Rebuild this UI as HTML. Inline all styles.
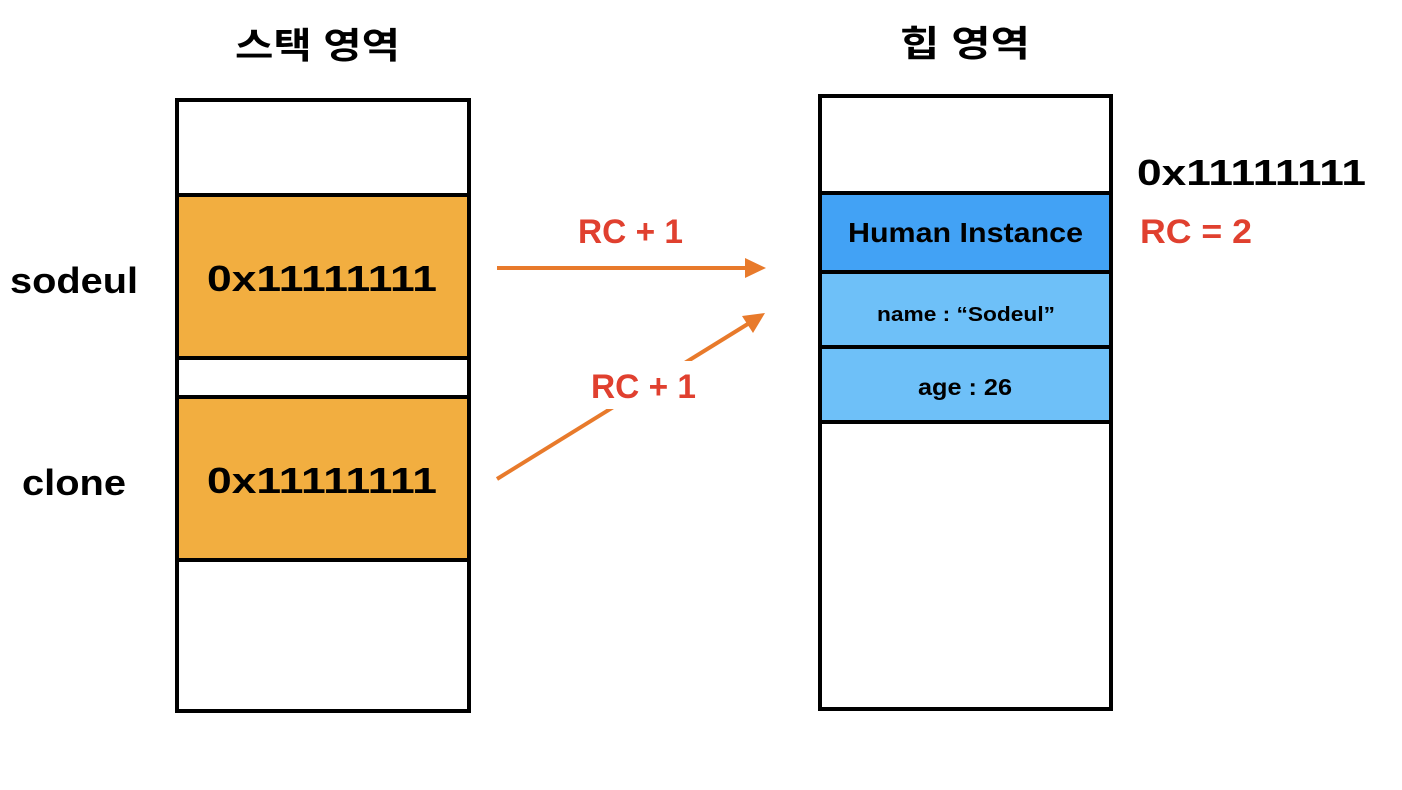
<!DOCTYPE html>
<html><head><meta charset="utf-8"><style>
html,body{margin:0;padding:0;background:#fff;}
svg{display:block}
text{font-family:"Liberation Sans","Noto Sans CJK KR",sans-serif;font-weight:bold;}
</style></head><body>
<svg width="1402" height="790" viewBox="0 0 1402 790">
<rect width="1402" height="790" fill="#fff"/>
<text x="235" y="58" font-size="36" textLength="165" lengthAdjust="spacingAndGlyphs" fill="#000">스택 영역</text>
<text x="900" y="56" font-size="36" textLength="130" lengthAdjust="spacingAndGlyphs" fill="#000">힙 영역</text>
<!-- stack -->
<rect x="177" y="195" width="292" height="163" fill="#f2ae40"/>
<rect x="177" y="397" width="292" height="163" fill="#f2ae40"/>
<rect x="177" y="100" width="292" height="611" fill="none" stroke="#000" stroke-width="4"/>
<g stroke="#000" stroke-width="4">
<line x1="177" y1="195" x2="469" y2="195"/>
<line x1="177" y1="358" x2="469" y2="358"/>
<line x1="177" y1="397" x2="469" y2="397"/>
<line x1="177" y1="560" x2="469" y2="560"/>
</g>
<text x="207" y="291" font-size="36" textLength="230" lengthAdjust="spacingAndGlyphs">0x11111111</text>
<text x="207" y="493" font-size="36" textLength="230" lengthAdjust="spacingAndGlyphs">0x11111111</text>
<text x="10" y="293" font-size="36" textLength="128" lengthAdjust="spacingAndGlyphs">sodeul</text>
<text x="22" y="495" font-size="36" textLength="104" lengthAdjust="spacingAndGlyphs">clone</text>
<!-- heap -->
<rect x="820" y="193" width="291" height="79" fill="#42a2f5"/>
<rect x="820" y="272" width="291" height="150" fill="#6ec0f8"/>
<rect x="820" y="96" width="291" height="613" fill="none" stroke="#000" stroke-width="4"/>
<g stroke="#000" stroke-width="4">
<line x1="820" y1="193" x2="1111" y2="193"/>
<line x1="820" y1="272" x2="1111" y2="272"/>
<line x1="820" y1="347" x2="1111" y2="347"/>
<line x1="820" y1="422" x2="1111" y2="422"/>
</g>
<text x="848" y="242" font-size="28" textLength="235" lengthAdjust="spacingAndGlyphs">Human Instance</text>
<text x="877" y="321" font-size="20" textLength="178" lengthAdjust="spacingAndGlyphs">name : “Sodeul”</text>
<text x="918" y="395" font-size="23" textLength="94" lengthAdjust="spacingAndGlyphs">age : 26</text>
<text x="1137" y="185" font-size="36" textLength="229" lengthAdjust="spacingAndGlyphs">0x11111111</text>
<text x="1140" y="243" font-size="34" fill="#e0402f" textLength="112" lengthAdjust="spacingAndGlyphs">RC = 2</text>
<!-- arrows -->
<g stroke="#e87a2b" stroke-width="4" fill="#e87a2b">
<line x1="497" y1="268" x2="748" y2="268"/>
<line x1="497" y1="479" x2="751" y2="322"/>
</g>
<polygon points="766,268 745,258 745,278" fill="#e87a2b"/>
<polygon points="765,313 742,316 753,333" fill="#e87a2b"/>
<rect x="590" y="361" width="110" height="48" fill="#fff"/>
<text x="578" y="243" font-size="34" fill="#e0402f" textLength="105" lengthAdjust="spacingAndGlyphs">RC + 1</text>
<text x="591" y="398" font-size="34" fill="#e0402f" textLength="105" lengthAdjust="spacingAndGlyphs">RC + 1</text>
</svg>
</body></html>
